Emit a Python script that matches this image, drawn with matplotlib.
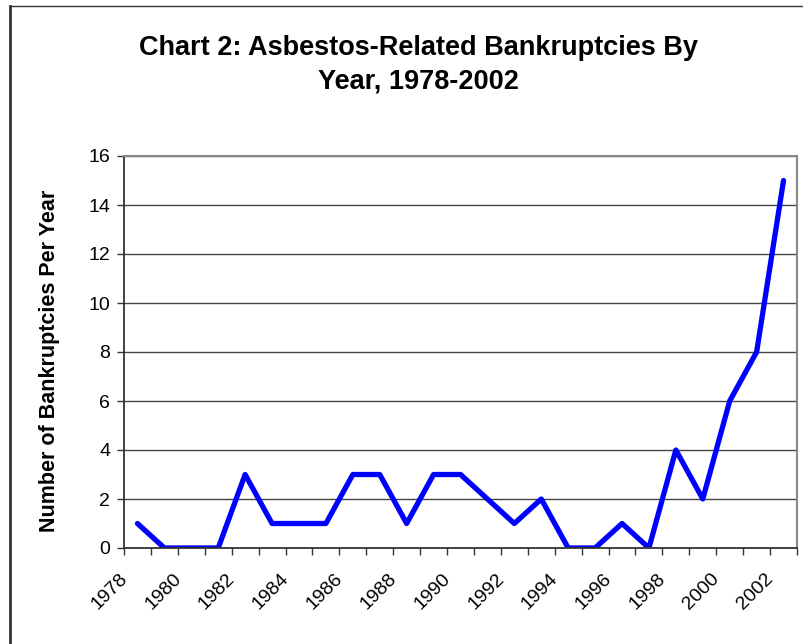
import numpy as np
import matplotlib.pyplot as plt
import matplotlib.transforms as mtransforms
from matplotlib.lines import Line2D

years = list(range(1978, 2003))
bankruptcies = [1, 0, 0, 0, 3, 1, 1, 1, 3, 3, 1, 3, 3, 2, 1, 2, 0, 0, 1, 0, 4, 2, 6, 8, 15]
year_labels = [str(y) for y in years[::2]]
y_ticks = [0, 2, 4, 6, 8, 10, 12, 14, 16]

plt.rcParams['font.family'] = ['Liberation Sans', 'DejaVu Sans']

fig = plt.figure(figsize=(8.04, 6.44), dpi=100)
ax = fig.add_axes([124 / 804, 1 - 548 / 644, (797 - 124) / 804, (548 - 156) / 644])

x = np.arange(len(years)) + 0.5
ax.plot(x, bankruptcies, color='#0000ff', lw=3.8, solid_joinstyle='round', solid_capstyle='round')

# category boundaries get tick marks, labels sit on every other category
ax.set_xticks(np.arange(len(years) + 1))
ax.set_xticklabels([])
ax.tick_params(axis='x', which='major', direction='out', length=5, width=1, color='#333333')
ax.set_xticks(x[::2], minor=True)
ax.set_xticklabels(year_labels, minor=True, rotation=45, ha='right', va='top',
                   rotation_mode='anchor', fontsize=14)
ax.tick_params(axis='x', which='minor', length=0, pad=16)
# nudge rotated labels left so their end sits near the category start
shift = mtransforms.ScaledTranslation(-0.188, 0, fig.dpi_scale_trans)
for lbl in ax.get_xticklabels(minor=True):
    lbl.set_transform(lbl.get_transform() + shift)

ax.set_xlim(0, len(years))
ax.set_ylim(0, 16)

ax.set_yticks(y_ticks)
ax.set_yticklabels([str(v) for v in y_ticks], fontsize=14)
ax.tick_params(axis='y', direction='out', length=5, width=1, color='#333333', pad=5)

ax.grid(True, axis='y', color='#444444', lw=1)
ax.set_axisbelow(True)

for side in ['left', 'bottom']:
    ax.spines[side].set_color('#333333')
    ax.spines[side].set_linewidth(1.3)
for side in ['top', 'right']:
    ax.spines[side].set_color('#888888')
    ax.spines[side].set_linewidth(1.5)

ax.set_ylabel("Number of Bankruptcies Per Year", fontsize=15.5, fontweight='bold')
ax.yaxis.set_label_coords(-0.095, 0.477)

fig.text(0.52, 0.9, "Chart 2: Asbestos-Related Bankruptcies By\nYear, 1978-2002",
         ha='center', va='center', fontsize=19.5, fontweight='bold', linespacing=1.38)

# outer chart frame (left and top edges visible)
fig.add_artist(Line2D([10.5 / 804, 10.5 / 804], [0, 1 - 6 / 644], color='#333333', lw=2))
fig.add_artist(Line2D([10 / 804, 1], [1 - 6 / 644, 1 - 6 / 644], color='#333333', lw=1))

fig.savefig('out.png', dpi=100)
